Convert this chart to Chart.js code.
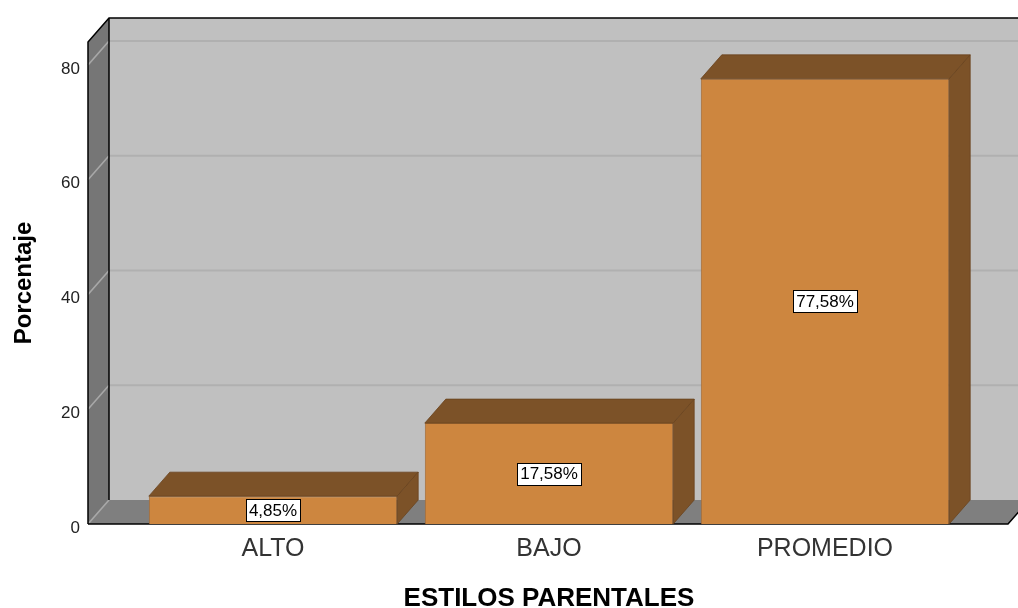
<!DOCTYPE html>
<html><head><meta charset="utf-8">
<script src="https://cdn.jsdelivr.net/npm/chart.js@4"></script>
<style>html,body{margin:0;padding:0;background:#fff}#wrap{width:1018px;height:608px}</style>
</head><body><div id="wrap"><canvas id="c" width="1018" height="608"></canvas></div>
<script>
const categories = ['ALTO', 'BAJO', 'PROMEDIO'];
const percentages = [4.85, 17.58, 77.58];
const yTicks = [0, 20, 40, 60, 80];
const yMax = 84;
const xTitle = 'ESTILOS PARENTALES';
const yTitle = 'Porcentaje';

const FONT = "'Liberation Sans', Arial, Helvetica, sans-serif";
const DX = 21, DY = -24;

function poly(ctx, pts, fill, stroke, lw) {
  ctx.beginPath();
  ctx.moveTo(pts[0][0], pts[0][1]);
  for (let i = 1; i < pts.length; i++) ctx.lineTo(pts[i][0], pts[i][1]);
  ctx.closePath();
  if (fill) { ctx.fillStyle = fill; ctx.fill(); }
  if (stroke) { ctx.strokeStyle = stroke; ctx.lineWidth = lw || 1; ctx.stroke(); }
}
function line(ctx, x1, y1, x2, y2) {
  ctx.beginPath(); ctx.moveTo(x1, y1); ctx.lineTo(x2, y2); ctx.stroke();
}

const box3d = {
  id: 'box3d',
  beforeDatasetsDraw(chart) {
    const { ctx, chartArea: a, scales: { y } } = chart;
    const x0 = a.left - 47, x1 = a.right + 45;
    const yb = y.getPixelForValue(0), yt = y.getPixelForValue(y.max);
    ctx.save();
    ctx.fillStyle = '#c0c0c0';
    ctx.fillRect(x0 + DX, yt + DY, chart.width - (x0 + DX), yb - yt);
    ctx.strokeStyle = '#b0b0b0'; ctx.lineWidth = 2;
    y.ticks.forEach(t => {
      if (t.value === 0) return;
      const py = y.getPixelForValue(t.value) + DY;
      line(ctx, x0 + DX, py, chart.width, py);
    });
    poly(ctx, [[x0, yb], [x0, yt], [x0 + DX, yt + DY], [x0 + DX, yb + DY]], '#767676');
    poly(ctx, [[x0, yb], [x1, yb], [x1 + DX, yb + DY], [x0 + DX, yb + DY]], '#7f7f7f');
    ctx.strokeStyle = '#a8a8a8'; ctx.lineWidth = 1.6;
    y.ticks.forEach(t => {
      const py = y.getPixelForValue(t.value);
      line(ctx, x0, py, x0 + DX, py + DY);
    });
    ctx.strokeStyle = '#000'; ctx.lineWidth = 1.5;
    ctx.beginPath();
    ctx.moveTo(x0, yb); ctx.lineTo(x0, yt); ctx.lineTo(x0 + DX, yt + DY); ctx.lineTo(chart.width, yt + DY);
    ctx.stroke();
    line(ctx, x0 + DX, yt + DY, x0 + DX, yb + DY);
    ctx.beginPath();
    ctx.moveTo(x0, yb); ctx.lineTo(x1, yb); ctx.lineTo(x1 + DX, yb + DY);
    ctx.stroke();
    ctx.restore();
  },
  afterDatasetsDraw(chart) {
    const { ctx } = chart;
    const meta = chart.getDatasetMeta(0);
    ctx.save();
    meta.data.forEach((bar) => {
      const { x, y, base, width } = bar.getProps(['x', 'y', 'base', 'width'], true);
      const l = x - width / 2, r = x + width / 2;
      poly(ctx, [[l, y], [r, y], [r + DX, y + DY], [l + DX, y + DY]], '#7c5228', '#6a4420', 0.8);
      poly(ctx, [[r, y], [r + DX, y + DY], [r + DX, base + DY], [r, base]], '#7c5228', '#6a4420', 0.8);
    });
    ctx.font = '17px ' + FONT;
    ctx.textAlign = 'center';
    ctx.textBaseline = 'middle';
    meta.data.forEach((bar, i) => {
      const { x, y, base } = bar.getProps(['x', 'y', 'base'], true);
      const txt = percentages[i].toFixed(2).replace('.', ',') + '%';
      const w = Math.round(ctx.measureText(txt).width + 6), h = 22;
      const cy = (y + base) / 2;
      const bx = Math.round(x - w / 2) + 0.5, by = Math.round(cy - h / 2) + 0.5;
      ctx.fillStyle = '#fff';
      ctx.fillRect(bx, by, w, h);
      ctx.strokeStyle = '#000'; ctx.lineWidth = 1;
      ctx.strokeRect(bx, by, w, h);
      ctx.fillStyle = '#000';
      ctx.fillText(txt, x, cy + 1);
    });
    ctx.restore();
  }
};

new Chart(document.getElementById('c'), {
  type: 'bar',
  data: {
    labels: categories,
    datasets: [{
      data: percentages,
      backgroundColor: '#cd863f',
      borderColor: '#a36b35',
      borderWidth: 1,
      barPercentage: 0.9,
      categoryPercentage: 1.0
    }]
  },
  options: {
    responsive: false,
    animation: false,
    devicePixelRatio: 1,
    layout: { padding: { left: 0, top: 42, right: 55, bottom: 0 } },
    plugins: { legend: { display: false }, tooltip: { enabled: false } },
    scales: {
      x: {
        grid: { display: false, drawTicks: false },
        border: { display: false },
        ticks: { font: { family: FONT, size: 25 }, color: '#333', padding: 10 },
        title: { display: true, text: xTitle, color: '#000',
          font: { family: FONT, size: 26, weight: 'bold', lineHeight: 0.7 },
          padding: { top: 0, bottom: 0 } },
        afterFit(s) { s.height = 84; s.paddingLeft = 0; s.paddingRight = 0; }
      },
      y: {
        min: 0, max: yMax,
        grid: { display: false, drawTicks: false },
        border: { display: false },
        afterBuildTicks(s) { s.ticks = yTicks.map(v => ({ value: v })); },
        ticks: { font: { family: FONT, size: 17 }, color: '#222', padding: 55, labelOffset: 4 },
        title: { display: true, text: yTitle, color: '#000',
          font: { family: FONT, size: 24, weight: 'bold' },
          padding: { top: 10, bottom: 0 } },
        afterFit(s) { s.width = 135; s.paddingTop = 0; s.paddingBottom = 0; }
      }
    }
  },
  plugins: [box3d]
});
</script>
</body></html>
